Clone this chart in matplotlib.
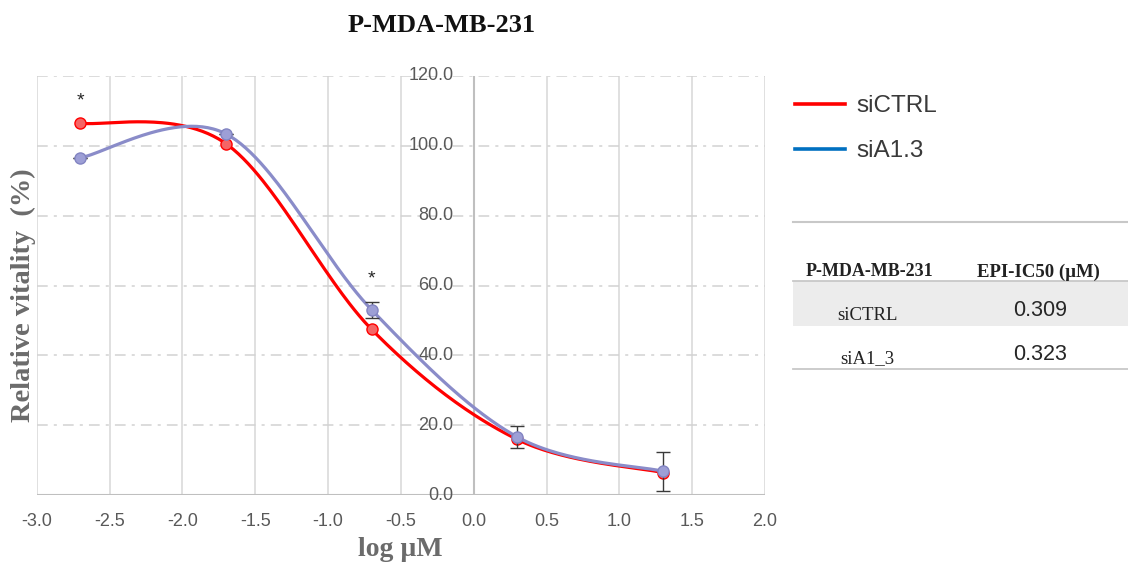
import numpy as np
import matplotlib
matplotlib.use("Agg")
import matplotlib.pyplot as plt
from matplotlib.lines import Line2D
from matplotlib.patches import Rectangle

# Dose-response data (log concentration in µM vs. relative vitality in %)
log_conc = [-2.7, -1.7, -0.7, 0.3, 1.3]
sictrl = [106.5, 100.6, 47.4, 15.9, 6.4]
sia13 = [96.6, 103.4, 53.0, 16.6, 6.8]
sia13_err = [0.0, 0.0, 2.3, 3.1, 5.6]
star_x = [-2.7, -0.7]
star_y = [112.9, 61.9]

x_ticks = [-3.0, -2.5, -2.0, -1.5, -1.0, -0.5, 0.0, 0.5, 1.0, 1.5, 2.0]
y_ticks = [0, 20, 40, 60, 80, 100, 120]

series_names = ["siCTRL", "siA1.3"]
table_header = ["P-MDA-MB-231", "EPI-IC50 (µM)"]
table_rows = ["siCTRL", "siA1_3"]
ic50 = [0.309, 0.323]


def smooth_curve(xs, ys, n=60):
    """Bezier smoothing through every point (spreadsheet-style smoothed line)."""
    pts = np.column_stack([xs, ys]).astype(float)
    m = len(pts)
    out = []
    for i in range(m - 1):
        p0 = pts[max(i - 1, 0)]
        p1 = pts[i]
        p2 = pts[i + 1]
        p3 = pts[min(i + 2, m - 1)]
        c1 = p1 + (p2 - p0) / 6.0
        c2 = p2 - (p3 - p1) / 6.0
        t = np.linspace(0, 1, n)[:, None]
        seg = ((1 - t) ** 3) * p1 + 3 * ((1 - t) ** 2) * t * c1 \
            + 3 * (1 - t) * t ** 2 * c2 + t ** 3 * p2
        out.append(seg if i == 0 else seg[1:])
    out = np.vstack(out)
    return out[:, 0], out[:, 1]


fig = plt.figure(figsize=(11.28, 5.62), dpi=100)
ax = fig.add_axes([36.7 / 1128, 1 - 495 / 562, (765 - 36.7) / 1128, 419 / 562])
ax.set_xlim(-3.0, 2.0)
ax.set_ylim(0, 120)

grid_v = "#dadada"
grid_h = "#d2d2d2"
for xv in x_ticks:
    ax.axvline(xv, color=grid_v, lw=1.2, zorder=0)
for yv in y_ticks[1:]:
    ax.axhline(yv, color=grid_h, lw=1.1, ls=(0, (7, 4, 2, 4)), zorder=0)
ax.axvline(0.0, color="#bfbfbf", lw=1.5, zorder=0.5)
ax.axhline(0.0, color="#bfbfbf", lw=1.5, zorder=0.5)

for s in ax.spines.values():
    s.set_visible(False)
ax.set_xticks([])
ax.set_yticks([])

tick_color = "#595959"
for xv in x_ticks:
    ax.annotate(f"{xv:.1f}", xy=(xv, 0), xycoords="data", xytext=(0, -27),
                textcoords="offset pixels", ha="center", va="center",
                fontsize=13, family="Liberation Sans", color=tick_color)
for yv in y_ticks:
    ax.annotate(f"{yv:.1f}", xy=(0, yv), xycoords="data", xytext=(-20, 0),
                textcoords="offset pixels", ha="right", va="center",
                fontsize=13, family="Liberation Sans", color=tick_color)

red = "#ff0000"
purple = "#8a8cc9"

xs, ys = smooth_curve(log_conc, sictrl)
ax.plot(xs, ys, color=red, lw=2.3, zorder=3, solid_capstyle="round")
ax.plot(log_conc, sictrl, "o", ms=8, mfc="#f56565", mec=red, mew=1.0, zorder=4)

xs, ys = smooth_curve(log_conc, sia13)
ax.plot(xs, ys, color=purple, lw=2.3, zorder=5, solid_capstyle="round")
ax.errorbar(log_conc, sia13, yerr=sia13_err, fmt="none", ecolor="#3a3a3a",
            elinewidth=1.0, capsize=5, capthick=1.0, zorder=6)
ax.plot(log_conc, sia13, "o", ms=8, mfc="#9d9fd6", mec="#8284c2", mew=1.0, zorder=7)

for sx, sy in zip(star_x, star_y):
    ax.text(sx, sy, "*", ha="center", va="center", fontsize=14,
            family="Liberation Sans", color="#262626")

fig.text(441.7 / 1128, 1 - 26 / 562, "P-MDA-MB-231", ha="center", va="center",
         fontsize=19, fontweight="bold", family="Liberation Serif", color="#111111")
fig.text(23 / 1128, 1 - 295 / 562, "Relative vitality  (%)", ha="center", va="center",
         rotation=90, fontsize=20.5, fontweight="bold", family="Liberation Serif",
         color="#6b6b6b")
fig.text(400 / 1128, 1 - 549 / 562, "log µM", ha="center", va="center",
         fontsize=20, fontweight="bold", family="Liberation Serif", color="#6b6b6b")

# Legend
legend_colors = [red, "#0070c0"]
legend_y = [104, 149]
for name, col, ly in zip(series_names, legend_colors, legend_y):
    fig.add_artist(Line2D([795 / 1128, 845 / 1128], [1 - ly / 562] * 2,
                          color=col, lw=2.6, transform=fig.transFigure))
    fig.text(856 / 1128, 1 - (ly + 2) / 562, name, ha="left", va="center",
             fontsize=17.5, family="Liberation Sans", color="#3a3a3a")

# IC50 table
tx0, tx1 = 793 / 1128, 1.0
fig.add_artist(Line2D([tx0, tx1], [1 - 221.5 / 562] * 2, color="#c8c8c8", lw=1.5,
                      transform=fig.transFigure))
fig.add_artist(Rectangle((tx0, 1 - 325.7 / 562), tx1 - tx0, 45 / 562,
                         facecolor="#ececec", edgecolor="none", transform=fig.transFigure))
fig.add_artist(Line2D([tx0, tx1], [1 - 280.7 / 562] * 2, color="#c8c8c8", lw=1.3,
                      transform=fig.transFigure))
fig.add_artist(Line2D([tx0, tx1], [1 - 369 / 562] * 2, color="#c8c8c8", lw=1.3,
                      transform=fig.transFigure))
col_x = [869 / 1128, 1038 / 1128]
fig.text(col_x[0], 1 - 272 / 562, table_header[0], ha="center", va="center",
         fontsize=13, fontweight="bold", family="Liberation Serif", color="#222222")
fig.text(col_x[1], 1 - 272 / 562, table_header[1], ha="center", va="center",
         fontsize=13.5, fontweight="bold", family="Liberation Serif", color="#222222")
row_label_y = [316, 359]
row_val_y = [311, 355]
for name, val, ly, vy in zip(table_rows, ic50, row_label_y, row_val_y):
    fig.text(867 / 1128, 1 - ly / 562, name, ha="center", va="center",
             fontsize=13.5, family="Liberation Serif", color="#222222")
    fig.text(1040 / 1128, 1 - vy / 562, f"{val:.3f}", ha="center", va="center",
             fontsize=15.5, family="Liberation Sans", color="#262626")

fig.savefig("out.png", dpi=100, facecolor="white")
